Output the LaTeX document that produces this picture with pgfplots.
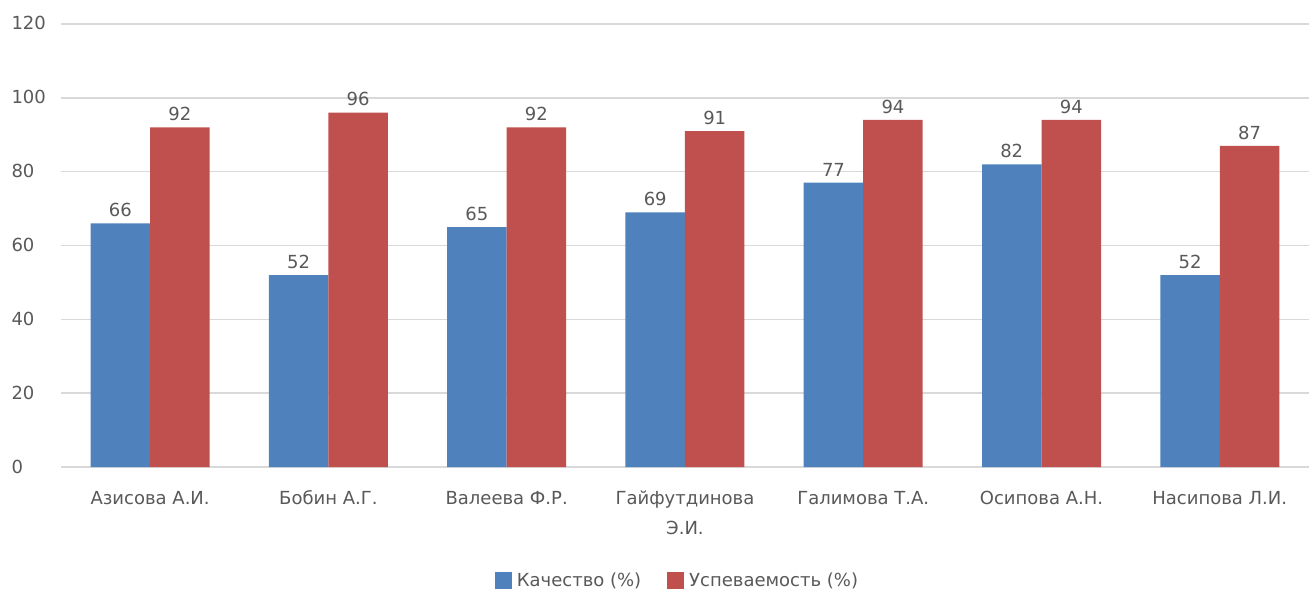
\documentclass[border=0pt]{standalone}
\usepackage{fontspec}
\setmainfont{DejaVu Sans}
\usepackage{pgfplots}
\pgfplotsset{compat=1.18}
\definecolor{cblue}{RGB}{79,129,189}
\definecolor{cred}{RGB}{192,80,77}
\definecolor{cgrid}{RGB}{217,217,217}
\definecolor{ctext}{RGB}{89,89,89}
\begin{document}
\begin{tikzpicture}
\useasboundingbox (0,0) rectangle (1309bp,592bp);
\begin{axis}[
  at={(61bp,125bp)}, anchor=south west,
  width=1248bp, height=443bp, scale only axis,
  xmin=-0.5, xmax=6.5, ymin=0, ymax=120,
  ytick={0,20,...,120},
  xtick={0,...,6},
  xticklabels={Азисова А.И.,Бобин А.Г.,Валеева Ф.Р.,{Гайфутдинова\\Э.И.},Галимова Т.А.,Осипова А.Н.,Насипова Л.И.},
  xticklabel style={align=center, anchor=north, yshift=-13bp},
  typeset ticklabels with strut,
  yticklabel style={anchor=west, xshift=-53bp},
  /pgf/number format/assume math mode=true,
  tick label style={font=\fontsize{18bp}{30bp}\selectfont, text=ctext},
  axis line style={draw=none},
  major tick length=0pt,
  ymajorgrids, grid style={cgrid, line width=1.5bp},
  ybar, bar width=59.5bp,
  nodes near coords,
  every node near coord/.append style={font=\fontsize{18bp}{20bp}\selectfont, text=ctext, yshift=3bp},
  clip=false,
  legend columns=2,
  legend style={at={(0.494,0)}, anchor=center, yshift=-113bp, draw=none,
    font=\fontsize{18bp}{20bp}\selectfont, text=ctext,
    /tikz/every odd column/.append style={column sep=3bp},
    /tikz/every even column/.append style={column sep=24bp}},
  legend image code/.code={\fill[#1] (0bp,-8.5bp) rectangle (17bp,8.5bp);},
]
\addplot[fill=cblue, draw=none, bar shift=-29.75bp] coordinates {(0,66) (1,52) (2,65) (3,69) (4,77) (5,82) (6,52)};
\addlegendentry{Качество (\%)}
\addplot[fill=cred, draw=none, bar shift=29.75bp] coordinates {(0,92) (1,96) (2,92) (3,91) (4,94) (5,94) (6,87)};
\addlegendentry{Успеваемость (\%)}
\end{axis}
\end{tikzpicture}
\end{document}
